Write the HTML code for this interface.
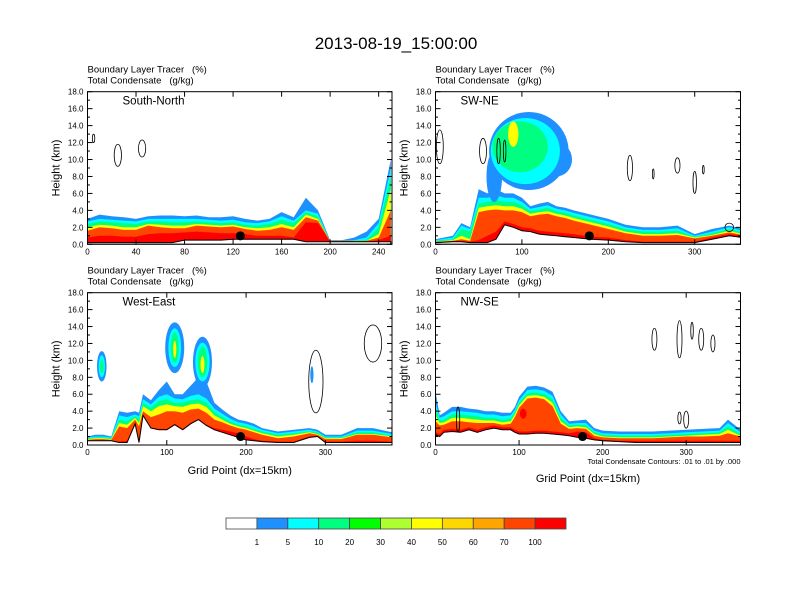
<!DOCTYPE html>
<html><head><meta charset="utf-8"><style>
body{margin:0;background:#fff;}
svg{display:block;font-family:"Liberation Sans",sans-serif;}
text{white-space:pre;}
</style></head><body>
<svg id="chart" width="792" height="612" viewBox="0 0 792 612">
<text x="396" y="49" font-size="17" text-anchor="middle">2013-08-19_15:00:00</text>
</svg>
<script>
// level colours (1,5,10,20,30,40,50,60,70,100 bins)
const levelColors = ["#ffffff","#1e90ff","#00ffff","#00ff80","#00ff00","#adff2f","#ffff00","#ffd700","#ffa500","#ff4500","#ff0000"];
const levelLabels = ["1","5","10","20","30","40","50","60","70","100"];
const yTicks = [0,2,4,6,8,10,12,14,16,18];

// Panel 1: South-North
const snX = [0,10,20,30,40,50,60,70,80,90,100,110,120,130,140,150,160,170,180,190,200,210,220,230,240,250];
const snGround = [0.2,0.2,0.2,0.2,0.2,0.2,0.2,0.2,0.5,0.5,0.5,0.5,0.6,0.6,0.6,0.6,0.6,0.6,0.3,0.3,0.3,0.3,0.3,0.3,0.3,0.3];
const snBlue = [3.0,3.5,3.3,3.2,3.0,3.3,3.4,3.4,3.3,3.4,3.2,3.2,3.3,3.0,2.8,3.0,3.8,3.2,5.5,4.0,0.5,0.5,0.8,1.5,3.0,10.0];
const snCyan = [2.7,3.0,2.9,2.8,2.7,3.0,3.0,3.0,3.0,3.0,2.9,2.8,2.9,2.6,2.5,2.7,3.3,2.8,4.0,3.6,0.4,0.4,0.5,0.8,2.5,9.0];
const snGreen = [2.4,2.7,2.6,2.5,2.4,2.7,2.7,2.6,2.6,2.7,2.6,2.5,2.6,2.3,2.2,2.4,2.9,2.5,3.8,3.3,0.4,0.4,0.4,0.5,2.0,8.0];
const snYellow = [2.0,2.3,2.2,2.0,2.0,2.4,2.3,2.2,2.2,2.4,2.3,2.2,2.3,2.0,1.9,2.0,2.4,2.0,3.5,3.0,0.4,0.4,0.4,0.4,1.2,6.5];
const snOrange = [1.6,2.0,1.9,1.7,1.7,2.2,2.0,1.9,1.9,2.2,2.1,2.0,2.1,1.8,1.6,1.7,2.0,1.7,3.2,2.8,0.4,0.4,0.4,0.4,0.8,4.0];
const snRed = [0.8,1.0,1.0,0.9,0.9,1.2,1.3,1.3,1.4,1.5,1.4,1.3,1.3,1.2,1.0,1.0,1.0,0.8,2.6,2.5,0.3,0.3,0.3,0.3,0.5,1.0];
const snBlobX=[], snBlobZ=[], snBlobRX=[], snBlobRZ=[], snBlobLevel=[];
const snContX=[5,25,45], snContZ=[12.5,10.5,11.3], snContRX=[1,3,3], snContRZ=[0.5,1.3,1];

// Panel 2: SW-NE
const swX = [0,20,30,40,50,60,70,80,90,100,110,120,130,140,150,160,180,200,220,240,260,280,300,320,340,355];
const swGround = [0.2,0.3,0.3,0.2,0.2,0.2,0.6,2.3,2.0,1.6,1.5,1.2,1.1,1.0,0.9,0.8,0.6,0.5,0.3,0.2,0.2,0.2,0.2,0.6,1.0,0.8];
const swBlue = [0.6,1.0,2.5,2.0,6.5,6.0,6.5,6.0,6.0,5.5,4.5,4.8,5.0,4.5,4.3,4.0,3.5,3.0,2.3,2.0,2.0,2.2,1.2,1.8,2.2,1.8];
const swCyan = [0.5,0.8,2.2,1.8,5.5,5.5,5.8,5.5,5.5,5.0,4.2,4.4,4.6,4.2,4.0,3.7,3.2,2.7,2.0,1.7,1.7,1.9,1.0,1.5,2.0,1.6];
const swGreen = [0.4,0.6,1.8,1.5,4.8,5.0,5.2,5.0,5.0,4.6,3.9,4.1,4.3,3.9,3.7,3.4,2.9,2.4,1.8,1.5,1.5,1.6,0.9,1.3,1.8,1.4];
const swYellow = [0.3,0.5,1.0,0.6,4.3,4.5,4.6,4.5,4.5,4.2,3.6,3.8,3.9,3.6,3.4,3.1,2.6,2.1,1.5,1.2,1.2,1.3,0.8,1.1,1.6,1.2];
const swOrange = [0.3,0.4,0.6,0.4,3.8,4.0,4.1,4.0,4.0,3.8,3.3,3.5,3.6,3.3,3.1,2.8,2.3,1.8,1.3,1.0,1.0,1.1,0.7,1.0,1.4,1.1];
const swRed = [0.2,0.4,0.4,0.3,0.5,1.0,1.5,2.7,2.4,2.0,1.9,1.6,1.5,1.4,1.3,1.2,0.9,0.8,0.5,0.3,0.3,0.3,0.3,0.8,1.2,1.0];
const swBlobX=[108,68,140,104,98,90], swBlobZ=[11,8,10,11,11.5,13], swBlobRX=[46,9,18,40,32,6], swBlobRZ=[4.6,3,2,3.9,3.0,1.5], swBlobLevel=[1,1,1,2,3,6];
const swContX=[5,55,73,80,225,252,280,300,310,340], swContZ=[11.5,11,11,11,9,8.3,9.3,7.3,8.8,2], swContRX=[4,4,2,1.5,3,1,3,2,1,5], swContRZ=[2,1.5,1.5,1.3,1.5,0.6,0.9,1.3,0.5,0.5];

// Panel 3: West-East
const weX = [0,10,20,30,40,50,60,65,70,80,90,100,110,120,130,140,150,160,170,180,190,200,210,220,240,260,280,290,300,320,340,360,384];
const weGround = [0.5,0.5,0.5,0.5,0.3,0.3,2.5,0.3,3.5,2.0,1.8,1.8,2.4,1.8,2.5,3.0,2.3,1.8,1.5,1.2,0.9,0.6,0.5,0.4,0.3,0.3,0.9,1.0,0.3,0.3,0.3,0.3,0.3];
const weBlue = [1.0,1.2,1.2,1.0,4.0,3.8,4.0,3.8,6.0,5.3,6.5,7.5,6.0,6.0,7.0,8.0,7.5,5.0,4.2,3.5,3.0,2.8,2.5,2.0,1.6,1.8,2.0,1.8,1.2,1.2,2.0,2.0,1.5];
const weCyan = [0.9,1.0,1.0,0.9,3.5,3.3,3.6,3.4,5.4,4.8,5.7,6.0,5.5,5.4,5.8,6.0,5.5,4.3,3.7,3.1,2.7,2.5,2.2,1.8,1.4,1.6,1.8,1.6,1.0,1.0,1.7,1.7,1.3];
const weGreen = [0.8,0.9,0.9,0.8,3.0,2.8,3.4,3.0,5.0,4.4,5.2,5.4,5.0,5.0,5.3,5.4,5.0,3.9,3.3,2.8,2.4,2.2,1.9,1.6,1.2,1.4,1.6,1.5,0.9,0.9,1.5,1.5,1.1];
const weYellow = [0.7,0.8,0.8,0.7,2.6,2.4,3.2,2.6,4.6,4.0,4.6,4.8,4.6,4.5,4.8,4.9,4.5,3.5,3.0,2.5,2.2,2.0,1.7,1.4,1.0,1.2,1.5,1.3,0.8,0.8,1.3,1.3,1.0];
const weOrange = [0.6,0.7,0.7,0.6,2.2,2.0,3.0,2.2,4.0,3.3,3.6,4.0,4.0,3.8,4.2,4.3,3.8,3.0,2.7,2.3,2.0,1.8,1.5,1.2,0.8,1.0,1.4,1.2,0.7,0.7,1.2,1.2,0.9];
const weRed = [0.5,0.5,0.5,0.5,0.4,0.5,2.6,0.4,3.6,2.1,1.9,1.9,2.5,1.9,2.6,3.1,2.4,2.0,1.8,1.6,1.4,1.0,0.7,0.5,0.4,0.4,1.0,1.1,0.4,0.4,0.5,0.5,0.4];
const weBlobX=[18,110,145,283,18,110,145,18,110,145,110,145], weBlobZ=[9.3,11.5,9.8,8.3,9.3,11.5,9.8,9.3,11.5,9.8,11.3,9.5], weBlobRX=[6,12,12,2,4,8,9,2.5,5,6,2,2.5], weBlobRZ=[1.8,3,3,1,1.3,2.3,2.3,0.8,1.8,1.8,1,1], weBlobLevel=[1,1,1,1,2,2,2,3,3,3,6,6];
const weContX=[288,360], weContZ=[7.5,12], weContRX=[9,11], weContRZ=[3.7,2.2];

// Panel 4: NW-SE
const nwX = [0,5,10,20,30,40,50,60,70,80,90,95,100,110,120,130,140,150,160,170,180,190,200,220,240,260,280,300,320,340,350,365];
const nwGround = [1.2,1.0,1.5,1.6,1.5,1.8,1.5,1.8,2.0,1.8,1.8,1.5,1.3,1.3,1.4,1.4,1.3,1.2,1.1,0.9,0.8,0.6,0.5,0.4,0.3,0.3,0.3,0.3,0.3,0.3,0.3,0.3];
const nwBlue = [6.3,3.5,3.8,4.5,4.5,4.3,4.2,4.0,4.0,3.8,3.8,4.5,5.7,6.9,7.0,6.8,6.3,4.0,2.8,2.9,3.0,2.0,1.7,1.6,1.6,1.6,1.7,1.8,1.9,2.0,3.0,1.8];
const nwCyan = [5.0,3.2,3.4,4.0,4.0,3.9,3.8,3.6,3.6,3.4,3.5,4.2,5.3,6.5,6.6,6.4,5.8,3.6,2.5,2.6,2.6,1.7,1.4,1.3,1.3,1.3,1.4,1.5,1.6,1.7,2.6,1.5];
const nwGreen = [4.5,2.9,3.0,3.6,3.6,3.5,3.4,3.2,3.2,3.0,3.1,3.9,5.0,6.1,6.2,6.0,5.4,3.2,2.3,2.4,2.3,1.5,1.2,1.1,1.1,1.1,1.2,1.3,1.4,1.5,2.2,1.3];
const nwYellow = [3.5,2.6,2.7,3.2,3.2,3.1,3.0,2.9,2.9,2.7,2.8,3.6,4.7,5.8,5.9,5.7,5.0,2.8,2.1,2.2,2.1,1.3,1.0,0.9,0.9,0.9,1.0,1.1,1.2,1.3,1.8,1.1];
const nwOrange = [2.8,2.3,2.4,2.8,2.8,2.7,2.6,2.6,2.6,2.4,2.5,3.3,4.4,5.5,5.6,5.4,4.6,2.5,1.9,2.0,1.9,1.1,0.9,0.8,0.8,0.8,0.9,1.0,1.0,1.1,1.4,1.0];
const nwRed = [1.5,1.3,1.8,1.9,1.8,2.1,1.8,2.1,2.3,2.1,2.1,1.8,1.6,1.6,1.7,1.7,1.6,1.5,1.4,1.6,1.5,0.8,0.6,0.5,0.5,0.5,0.5,0.5,0.5,0.5,0.5,0.5];
const nwBlobX=[105], nwBlobZ=[3.7], nwBlobRX=[4], nwBlobRZ=[0.6], nwBlobLevel=[10];
const nwContX=[262,292,307,318,332,292,300,27], nwContZ=[12.5,12.5,13.5,12.5,12,3.2,3,3], nwContRX=[3,3,1.5,3,2.5,2,3,2], nwContRZ=[1.3,2.2,1,1.3,1,0.7,1,1.5];

const NS="http://www.w3.org/2000/svg";
const svg=document.getElementById('chart');
function mk(tag,attrs,parent){const e=document.createElementNS(NS,tag);for(const k in attrs)e.setAttribute(k,attrs[k]);(parent||svg).appendChild(e);return e;}

const panels=[
 {name:"south-north",label:"South-North",x0:87.5,y0:91.7,w:304.5,h:152.6,xmax:251,xt:[0,40,80,120,160,200,240],X:snX,G:snGround,L:[snBlue,snCyan,snGreen,snYellow,snOrange,snRed],lv:[1,2,3,6,9,10],bx:snBlobX,bz:snBlobZ,brx:snBlobRX,brz:snBlobRZ,bl:snBlobLevel,cx:snContX,cz:snContZ,crx:snContRX,crz:snContRZ,dot:126,gp:false},
 {name:"sw-ne",label:"SW-NE",x0:435.5,y0:91.7,w:305,h:152.6,xmax:353,xt:[0,100,200,300],X:swX,G:swGround,L:[swBlue,swCyan,swGreen,swYellow,swOrange,swRed],lv:[1,2,3,6,9,10],bx:swBlobX,bz:swBlobZ,brx:swBlobRX,brz:swBlobRZ,bl:swBlobLevel,cx:swContX,cz:swContZ,crx:swContRX,crz:swContRZ,dot:178,gp:false},
 {name:"west-east",label:"West-East",x0:87.5,y0:292.7,w:304.5,h:152.3,xmax:384,xt:[0,100,200,300],X:weX,G:weGround,L:[weBlue,weCyan,weGreen,weYellow,weOrange,weRed],lv:[1,2,3,6,9,10],bx:weBlobX,bz:weBlobZ,brx:weBlobRX,brz:weBlobRZ,bl:weBlobLevel,cx:weContX,cz:weContZ,crx:weContRX,crz:weContRZ,dot:193,gp:true},
 {name:"nw-se",label:"NW-SE",x0:435.5,y0:292.7,w:305,h:152.3,xmax:365,xt:[0,100,200,300],X:nwX,G:nwGround,L:[nwBlue,nwCyan,nwGreen,nwYellow,nwOrange,nwRed],lv:[1,2,3,6,9,10],bx:nwBlobX,bz:nwBlobZ,brx:nwBlobRX,brz:nwBlobRZ,bl:nwBlobLevel,cx:nwContX,cz:nwContZ,crx:nwContRX,crz:nwContRZ,dot:176,gp:true},
];

panels.forEach((p,pi)=>{
 const sx=v=>p.x0+v/p.xmax*p.w;
 const sz=v=>p.y0+p.h-v/18*p.h;
 const g=mk('g',{});
 
 
 const cid='clip'+pi;
 const cp=mk('clipPath',{id:cid},g); mk('rect',{x:p.x0,y:p.y0,width:p.w,height:p.h},cp);
 const fg=mk('g',{'clip-path':'url(#'+cid+')'},g);
 const bot=p.y0+p.h;
 p.L.forEach((arr,li)=>{
  let d='M'+sx(p.X[0])+','+bot;
  p.X.forEach((x,i)=>{d+=' L'+sx(x).toFixed(1)+','+sz(arr[i]).toFixed(1);});
  d+=' L'+sx(p.X[p.X.length-1])+','+bot+' Z';
  const e=mk('path',{d:d,fill:levelColors[p.lv[li]]},fg);
  
  
 });
 p.bx.forEach((x,i)=>{
  const e=mk('ellipse',{cx:sx(x),cy:sz(p.bz[i]),rx:p.brx[i]/p.xmax*p.w,ry:p.brz[i]/18*p.h,fill:levelColors[p.bl[i]]},fg);
  
  
 });
 let td='M'+sx(p.X[0])+','+bot;
 p.X.forEach((x,i)=>{td+=' L'+sx(x).toFixed(1)+','+sz(p.G[i]).toFixed(1);});
 td+=' L'+sx(p.X[p.X.length-1])+','+bot+' Z';
 const t=mk('path',{d:td,fill:'#fff',stroke:'#000','stroke-width':1},fg);
 
 
 p.cx.forEach((x,i)=>{
  const e=mk('ellipse',{cx:sx(x),cy:sz(p.cz[i]),rx:p.crx[i]/p.xmax*p.w,ry:p.crz[i]/18*p.h,fill:'none',stroke:'#000','stroke-width':0.8},fg);
  
  
 });
 const dot=mk('circle',{cx:sx(p.dot),cy:sz(1.0),r:4.5,fill:'#000'},g);
 
 
 const fr=mk('rect',{x:p.x0,y:p.y0,width:p.w,height:p.h,fill:'none',stroke:'#000','stroke-width':1},g);
 
 
 yTicks.forEach(v=>{
  const y=sz(v);
  mk('line',{x1:p.x0,x2:p.x0+5,y1:y,y2:y,stroke:'#000'},g);
  mk('line',{x1:p.x0+p.w,x2:p.x0+p.w-5,y1:y,y2:y,stroke:'#000'},g);
  if(v<18){const y2=sz(v+1);mk('line',{x1:p.x0,x2:p.x0+2.5,y1:y2,y2:y2,stroke:'#000'},g);mk('line',{x1:p.x0+p.w,x2:p.x0+p.w-2.5,y1:y2,y2:y2,stroke:'#000'},g);}
  const tx=mk('text',{x:p.x0-4,y:y+3,'font-size':8,'text-anchor':'end'},g);
  tx.textContent=v.toFixed(1);
  
  
 });
 p.xt.forEach(v=>{
  const x=sx(v);
  mk('line',{x1:x,x2:x,y1:bot,y2:bot-5,stroke:'#000'},g);
  mk('line',{x1:x,x2:x,y1:p.y0,y2:p.y0+5,stroke:'#000'},g);
  const tx=mk('text',{x:x,y:bot+10,'font-size':8,'text-anchor':'middle'},g);
  tx.textContent=String(v);
  
  
 });
 const yt=mk('text',{x:0,y:0,'font-size':11,'text-anchor':'middle',transform:`translate(${p.x0-28},${p.y0+p.h/2}) rotate(-90)`},g);
 yt.textContent='Height (km)';
 
 
 const s1=mk('text',{x:p.x0,y:p.y0-19,'font-size':9.5},g); s1.textContent='Boundary Layer Tracer\u00a0\u00a0\u00a0(%)';
 
 
 const s2=mk('text',{x:p.x0,y:p.y0-8,'font-size':9.5},g); s2.textContent='Total Condensate\u00a0\u00a0\u00a0(g/kg)';
 
 
 const lb=mk('text',{x:p.x0+(pi%2==0?35:25),y:p.y0+13,'font-size':11.5},g); lb.textContent=p.label;
 
 
 if(p.gp){
  const gy=pi==3?bot+37:bot+29;
  const gt=mk('text',{x:p.x0+p.w/2,y:gy,'font-size':11,'text-anchor':'middle'},g); gt.textContent='Grid Point (dx=15km)';
  
  
 }
 if(pi==3){
  const ct=mk('text',{x:p.x0+p.w,y:bot+19,'font-size':7.5,'text-anchor':'end'},g); ct.textContent='Total Condensate Contours: .01 to .01 by .000';
  
  
 }
});

const cb=mk('g',{});


const cbx=226, cbw=340/levelColors.length;
levelColors.forEach((c,i)=>{
 const r=mk('rect',{x:cbx+i*cbw,y:518,width:cbw,height:11,fill:c,stroke:'#444','stroke-width':0.8},cb);
 
 
});
levelLabels.forEach((l,i)=>{
 const t=mk('text',{x:cbx+(i+1)*cbw,y:545,'font-size':8,'text-anchor':'middle'},cb);
 t.textContent=l;
 
 
});
</script>
</body></html>
